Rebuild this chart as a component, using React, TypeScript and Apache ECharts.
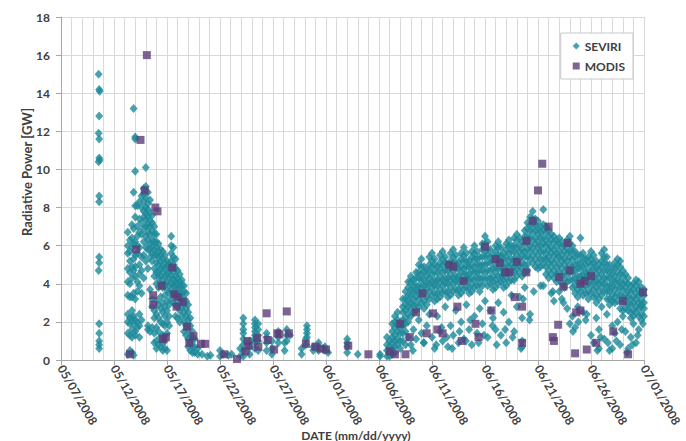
import React, { useEffect, useRef } from "react";
import * as echarts from "echarts";

// x values are days since 05/07/2008
const dateLabels = [
  "05/07/2008", "05/12/2008", "05/17/2008", "05/22/2008", "05/27/2008", "06/01/2008",
  "06/06/2008", "06/11/2008", "06/16/2008", "06/21/2008", "06/26/2008", "07/01/2008",
];

const seviriFirstBurst: number[][] = [
  [3.55, 15.0], [3.6, 14.2], [3.65, 14.1], [3.6, 12.8], [3.55, 11.9], [3.6, 11.6],
  [3.6, 10.6], [3.65, 10.5], [3.55, 10.4], [3.6, 8.6], [3.6, 8.3], [3.6, 5.4],
  [3.6, 5.1], [3.55, 4.7], [3.6, 1.9], [3.6, 1.4], [3.6, 1.0], [3.6, 0.8], [3.6, 0.6],
];

const seviriMayColumns: [number, number[]][] = [
  [6.3, [6.7, 6.0, 5.6, 4.8, 4.1, 3.4, 2.4, 2.0, 1.4, 0.3]],
  [6.5, [6.3, 5.7, 5.2, 4.6, 4.0, 3.3, 2.2, 1.9, 1.3, 0.5]],
  [6.7, [7.1, 6.4, 5.9, 4.9, 4.3, 3.3, 2.6, 2.2, 1.6, 1.2, 0.4]],
  [6.85, [13.2, 8.8, 6.9, 6.1, 5.3, 4.7, 3.5, 2.3, 1.9, 0.25]],
  [7.0, [11.7, 11.6, 9.9, 8.1, 7.5, 6.2, 5.5, 4.9, 4.4, 3.2, 2.1, 1.5, 1.3]],
  [7.2, [8.1, 7.0, 6.5, 6.0, 5.6, 4.1, 3.6, 2.0, 1.7]],
  [7.4, [8.3, 7.4, 6.7, 5.9, 5.0, 4.5, 3.9, 2.4, 1.8, 1.2]],
  [7.6, [8.6, 8.0, 7.2, 6.6, 5.4, 4.7, 3.5, 2.1]],
  [7.8, [9.0, 8.7, 8.3, 7.8, 7.5, 6.9, 6.2, 5.5, 4.3]],
  [8.0, [10.1, 9.1, 8.5, 8.0, 7.7, 7.4, 7.0, 6.5, 5.9, 5.2]],
  [8.2, [8.8, 8.2, 7.9, 7.5, 7.1, 6.7, 6.3, 5.8, 4.8, 1.8, 1.6]],
  [8.4, [8.4, 7.7, 7.3, 7.0, 6.6, 6.1, 5.8, 5.4, 3.7, 1.5]],
  [8.6, [7.6, 7.2, 6.8, 6.3, 6.0, 5.6, 5.2, 3.2, 2.8, 1.7]],
  [8.8, [7.0, 6.6, 6.2, 5.8, 5.5, 4.8, 4.4, 2.6, 2.2, 1.4, 0.9]],
  [9.0, [6.6, 6.2, 5.9, 5.5, 5.1, 4.6, 4.0, 3.1, 2.4, 1.7, 1.0, 0.6]],
  [9.2, [6.1, 5.7, 5.4, 5.0, 4.6, 4.3, 3.8, 2.9, 2.2, 1.5, 0.8]],
  [9.4, [5.8, 5.5, 5.2, 4.8, 4.4, 4.0, 3.3, 2.7, 2.0, 1.2, 0.7]],
  [9.6, [5.7, 5.3, 4.9, 4.6, 4.2, 3.8, 3.0, 2.5, 1.9, 1.3, 0.9, 0.5]],
  [9.8, [5.5, 5.1, 4.8, 4.4, 4.0, 3.4, 2.8, 2.3, 1.8, 1.0, 0.6]],
  [10.0, [5.2, 4.9, 4.5, 4.1, 3.7, 3.1, 2.6, 2.0, 1.4, 0.5]],
  [10.2, [5.0, 4.6, 4.3, 3.9, 3.5, 2.9, 2.3, 1.8]],
  [10.4, [6.5, 6.0, 5.6, 5.2, 4.8, 4.4, 4.0, 3.6, 3.2]],
  [10.6, [5.9, 5.4, 5.0, 4.6, 4.2, 3.9, 3.5, 3.0]],
  [10.8, [5.3, 4.8, 4.4, 4.1, 3.8, 3.4, 2.9, 2.3]],
  [11.0, [4.7, 4.3, 4.0, 3.7, 3.3, 2.8, 2.2]],
  [11.2, [4.5, 4.1, 3.8, 3.4, 3.0, 2.6, 2.0]],
  [11.4, [4.2, 3.9, 3.5, 3.2, 2.8, 2.3]],
  [11.6, [3.9, 3.6, 3.2, 2.9, 2.5, 2.0, 1.5]],
  [11.8, [3.5, 3.1, 2.7, 2.3, 1.8, 1.3]],
  [12.0, [2.9, 2.5, 2.1, 1.6, 1.1, 0.7]],
  [12.2, [2.2, 1.8, 1.3, 0.9, 0.5]],
  [12.4, [1.5, 1.1, 0.7, 0.4]],
  [12.6, [1.1, 0.7, 0.4]],
  [12.9, [0.6, 0.3]],
  [13.3, [0.3]],
  [13.8, [0.2]],
  [14.1, [0.25]],
  [15.0, [0.5, 0.2]],
  [15.3, [0.3]],
  [15.8, [0.25]],
  [16.1, [0.3]],
  [16.9, [0.6, 0.2]],
];

const seviriLateMay: [number, number[]][] = [
  [17.2, [2.2, 1.9, 1.6, 1.4, 1.1, 0.8, 0.5, 0.2]],
  [17.8, [1.0, 0.7, 0.3]],
  [18.3, [2.1, 1.9, 1.7, 1.5, 1.3, 1.1, 0.9, 0.6]],
  [18.6, [1.9, 1.6, 1.3, 1.0, 0.5]],
  [19.4, [1.4, 1.2, 0.9, 0.5]],
  [19.9, [1.0, 0.6, 0.3]],
  [20.5, [1.5, 1.2, 0.9]],
  [21.1, [0.9, 0.5]],
  [21.3, [1.6, 1.3, 1.0]],
  [21.6, [1.3]],
  [22.7, [0.6, 0.3]],
  [23.1, [1.1, 0.8]],
  [23.2, [1.8, 1.6, 1.4, 1.2]],
  [23.8, [0.7, 0.5]],
  [24.3, [0.9, 0.7, 0.5]],
  [24.9, [0.7, 0.5]],
  [25.2, [0.4]],
  [27.0, [1.1, 0.9, 0.7, 0.4]],
  [28.0, [0.3]],
  [30.1, [0.3, 0.2]],
];

const seviriJuneColumns: [number, number[]][] = [
  [30.75, [1.2, 0.8, 0.5, 0.2]],
  [31.0, [1.0, 0.7, 0.4, 0.2]],
  [31.25, [1.9, 1.5, 1.2, 0.9, 0.6, 0.3]],
  [31.5, [2.3, 2.0, 1.7, 1.3, 1.0, 0.7, 0.4]],
  [31.75, [2.5, 2.1, 1.8, 1.5, 1.1, 0.8]],
  [32.0, [2.0, 1.7, 1.4, 1.0, 0.6]],
  [32.25, [3.2, 2.8, 2.5, 2.1, 1.8, 1.4, 1.0]],
  [32.5, [3.6, 3.2, 2.9, 2.6, 2.2, 1.9, 1.5, 0.8]],
  [32.75, [4.1, 3.8, 3.4, 3.1, 2.8, 2.4, 2.0, 1.2]],
  [33.0, [4.4, 4.1, 3.7, 3.4, 3.0, 2.7, 2.3, 0.8]],
  [33.25, [4.2, 3.9, 3.6, 3.2, 2.9, 2.5, 1.6]],
  [33.5, [4.6, 4.3, 3.9, 3.6, 3.3, 2.9, 2.6, 1.1]],
  [33.75, [5.0, 4.6, 4.3, 3.9, 3.6, 3.2, 2.8, 2.1]],
  [34.0, [5.3, 4.9, 4.5, 4.2, 3.8, 3.4, 3.0, 1.4]],
  [34.25, [4.9, 4.6, 4.2, 3.9, 3.5, 3.1, 2.7, 0.9]],
  [34.5, [4.7, 4.4, 4.0, 3.7, 3.3, 2.9, 1.8]],
  [34.75, [5.4, 5.0, 4.7, 4.3, 4.0, 3.6, 3.2, 2.4]],
  [35.0, [5.6, 5.2, 4.9, 4.5, 4.1, 3.8, 3.4, 1.2]],
  [35.25, [5.3, 5.0, 4.6, 4.2, 3.9, 3.5, 3.1, 0.6]],
  [35.5, [4.9, 4.6, 4.2, 3.9, 3.5, 3.2, 2.3]],
  [35.75, [5.5, 5.1, 4.8, 4.4, 4.1, 3.7, 3.3, 1.5]],
  [36.0, [5.7, 5.3, 5.0, 4.6, 4.2, 3.9, 3.5, 1.0]],
  [36.25, [5.4, 5.1, 4.7, 4.3, 4.0, 3.6, 2.8]],
  [36.5, [5.0, 4.7, 4.3, 4.0, 3.6, 3.3, 0.7]],
  [36.75, [5.6, 5.2, 4.9, 4.5, 4.2, 3.8, 3.4, 1.8]],
  [37.0, [5.8, 5.4, 5.1, 4.7, 4.3, 4.0, 3.6, 1.3]],
  [37.25, [5.5, 5.1, 4.8, 4.4, 4.1, 3.7, 2.6]],
  [37.5, [5.1, 4.8, 4.4, 4.1, 3.7, 3.4, 0.9]],
  [37.75, [5.6, 5.3, 4.9, 4.6, 4.2, 3.9, 3.5, 2.0]],
  [38.0, [5.9, 5.5, 5.2, 4.8, 4.5, 4.1, 3.7, 1.1]],
  [38.25, [5.6, 5.2, 4.9, 4.5, 4.2, 3.8, 2.9]],
  [38.5, [5.2, 4.9, 4.5, 4.2, 3.8, 3.5, 1.6]],
  [38.75, [5.7, 5.4, 5.0, 4.7, 4.3, 4.0, 3.6, 0.8]],
  [39.0, [6.0, 5.6, 5.3, 4.9, 4.6, 4.2, 3.8, 2.3]],
  [39.25, [5.7, 5.3, 5.0, 4.6, 4.3, 3.9, 1.4]],
  [39.5, [5.4, 5.0, 4.7, 4.3, 4.0, 3.6, 2.7]],
  [39.75, [6.1, 5.8, 5.4, 5.0, 4.7, 4.3, 3.9, 1.9]],
  [40.0, [6.5, 6.1, 5.7, 5.4, 5.0, 4.6, 4.2, 3.1]],
  [40.25, [6.2, 5.8, 5.5, 5.1, 4.7, 4.3, 3.9, 1.2]],
  [40.5, [5.8, 5.4, 5.1, 4.7, 4.3, 4.0, 2.6]],
  [40.75, [5.5, 5.2, 4.8, 4.4, 4.1, 3.7, 2.2]],
  [41.0, [6.0, 5.7, 5.3, 4.9, 4.6, 4.2, 3.8, 1.6]],
  [41.25, [6.2, 5.9, 5.5, 5.1, 4.8, 4.4, 4.0, 3.0]],
  [41.5, [5.9, 5.5, 5.2, 4.8, 4.4, 4.1, 1.3]],
  [41.75, [5.6, 5.3, 4.9, 4.5, 4.2, 3.8, 2.5]],
  [42.0, [6.1, 5.8, 5.4, 5.0, 4.7, 4.3, 3.9, 0.9]],
  [42.25, [6.3, 6.0, 5.6, 5.2, 4.9, 4.5, 4.1, 2.0]],
  [42.5, [6.0, 5.7, 5.3, 5.0, 4.6, 4.2, 3.4]],
  [42.75, [6.4, 6.0, 5.7, 5.3, 4.9, 4.6, 4.2, 1.5]],
  [43.0, [6.6, 6.3, 5.9, 5.5, 5.2, 4.8, 4.4, 2.8]],
  [43.25, [6.4, 6.0, 5.7, 5.3, 5.0, 4.6, 3.3]],
  [43.5, [6.2, 5.8, 5.5, 5.1, 4.8, 4.4, 2.2, 1.0, 0.7]],
  [43.75, [6.8, 6.5, 6.1, 5.7, 5.4, 5.0, 4.6, 3.8]],
  [44.0, [7.2, 6.9, 6.5, 6.2, 5.8, 5.4, 5.0, 4.7]],
  [44.25, [7.5, 7.1, 6.8, 6.4, 6.0, 5.7, 5.3, 2.4]],
  [44.5, [7.8, 7.4, 7.1, 6.7, 6.3, 5.9, 5.5, 5.1]],
  [44.75, [7.4, 7.1, 6.8, 6.4, 6.1, 5.7, 5.3, 4.9]],
  [45.0, [7.3, 6.9, 6.6, 6.2, 5.9, 5.5, 5.1, 4.8]],
  [45.25, [7.0, 6.7, 6.4, 6.0, 5.7, 5.3, 4.9, 3.9]],
  [45.5, [7.9, 7.1, 6.8, 6.4, 6.1, 5.7, 5.3, 5.0]],
  [45.75, [7.0, 6.7, 6.3, 6.0, 5.6, 5.3, 4.9, 4.5]],
  [46.0, [6.8, 6.5, 6.1, 5.8, 5.4, 5.1, 4.7, 4.3]],
  [46.25, [6.6, 6.3, 5.9, 5.6, 5.2, 4.9, 4.5, 3.5]],
  [46.5, [6.5, 6.2, 5.8, 5.5, 5.1, 4.7, 4.3, 3.1]],
  [46.75, [6.3, 6.0, 5.6, 5.3, 4.9, 4.5, 4.1]],
  [47.0, [6.4, 6.1, 5.7, 5.4, 5.0, 4.6, 4.2, 3.6]],
  [47.25, [6.2, 5.9, 5.5, 5.2, 4.8, 4.4, 4.0, 3.2]],
  [47.5, [6.0, 5.7, 5.3, 5.0, 4.6, 4.2, 3.8]],
  [47.75, [6.3, 5.9, 5.6, 5.2, 4.8, 4.5, 4.1, 2.7]],
  [48.0, [6.5, 6.1, 5.7, 5.4, 5.0, 4.6, 4.2, 1.9]],
  [48.25, [6.0, 5.7, 5.3, 4.9, 4.6, 4.2, 3.8, 2.3]],
  [48.5, [5.7, 5.4, 5.0, 4.7, 4.3, 3.9, 3.5, 1.7]],
  [48.75, [5.5, 5.1, 4.8, 4.4, 4.1, 3.7, 3.3, 2.8]],
  [49.0, [6.4, 5.5, 5.1, 4.8, 4.4, 4.0, 3.6]],
  [49.25, [5.6, 5.3, 4.9, 4.5, 4.2, 3.8, 3.4, 2.5]],
  [49.5, [5.3, 5.0, 4.6, 4.3, 3.9, 3.5, 2.1]],
  [49.75, [5.4, 5.1, 4.7, 4.4, 4.0, 3.6, 3.2]],
  [50.0, [5.7, 5.3, 5.0, 4.6, 4.2, 3.9, 3.5, 1.3]],
  [50.25, [5.5, 5.1, 4.8, 4.4, 4.1, 3.7, 3.3, 0.9]],
  [50.5, [5.2, 4.8, 4.5, 4.1, 3.8, 3.4, 3.0, 2.2]],
  [50.75, [5.0, 4.7, 4.3, 4.0, 3.6, 3.2, 1.6, 0.6]],
  [51.0, [5.6, 5.2, 4.9, 4.5, 4.1, 3.8, 3.4, 2.8]],
  [51.25, [5.8, 5.4, 5.1, 4.7, 4.3, 4.0, 3.6, 1.1]],
  [51.5, [5.4, 5.0, 4.7, 4.3, 3.9, 3.6, 3.2, 2.4]],
  [51.75, [5.0, 4.6, 4.3, 3.9, 3.6, 3.2, 2.9, 0.5]],
  [52.0, [4.8, 4.5, 4.1, 3.8, 3.4, 3.1, 1.8]],
  [52.25, [5.1, 4.8, 4.4, 4.1, 3.7, 3.3, 3.0, 1.4]],
  [52.5, [5.3, 5.0, 4.6, 4.2, 3.9, 3.5, 3.1, 2.0]],
  [52.75, [5.2, 4.9, 4.5, 4.1, 3.8, 3.4, 2.7, 0.8]],
  [53.0, [4.7, 4.4, 4.0, 3.7, 3.3, 3.0, 2.6, 2.3]],
  [53.25, [4.5, 4.1, 3.8, 3.4, 3.1, 2.7, 1.5]],
  [53.5, [4.3, 4.0, 3.6, 3.3, 2.9, 2.6, 0.6]],
  [53.75, [3.9, 3.6, 3.2, 2.9, 2.5, 2.2, 1.2]],
  [54.0, [4.0, 3.7, 3.3, 3.0, 2.6, 2.3, 1.9]],
  [54.25, [4.2, 3.9, 3.5, 3.2, 2.8, 2.5, 0.9]],
  [54.5, [4.1, 3.7, 3.4, 3.0, 2.7, 2.3, 1.6]],
  [54.75, [3.8, 3.5, 3.1, 2.8, 2.4, 2.1, 2.9]],
  [55.0, [3.7, 3.4, 3.0, 2.7, 2.3]],
];

const seviriJuneLow: number[][] = [
  [33.2, 0.5], [34.2, 0.9], [35.4, 0.8], [35.9, 1.7], [36.4, 1.2], [36.9, 0.6],
  [37.6, 1.5], [38.2, 1.0], [38.6, 2.1], [39.4, 0.9], [39.9, 1.3], [40.7, 1.8],
  [41.1, 0.8], [41.9, 1.6], [42.6, 1.2], [43.4, 0.6], [43.6, 3.2], [44.2, 2.1],
  [44.6, 3.6], [45.5, 3.9], [46.4, 3.6], [47.4, 3.0], [48.3, 1.5], [48.8, 2.0],
  [49.6, 2.4], [50.6, 0.5], [50.9, 1.2], [51.6, 0.9], [52.0, 0.6], [52.4, 1.0],
  [52.9, 1.6], [53.4, 0.4], [53.9, 0.8], [54.4, 1.3], [54.9, 1.9],
];

const modisPoints: number[][] = [
  [6.5, 0.3], [7.1, 5.8], [7.5, 11.55], [7.9, 8.9], [8.1, 16.0], [8.7, 3.4], [8.7, 2.9],
  [8.9, 8.0], [9.1, 7.8], [9.5, 3.9], [9.6, 1.1], [9.9, 1.2], [10.5, 4.85], [10.7, 3.45],
  [10.9, 2.8], [11.0, 3.3], [11.5, 3.05], [11.9, 1.75], [12.1, 0.9], [12.5, 1.25],
  [13.2, 0.85], [13.6, 0.85], [15.4, 0.3], [16.6, 0.05], [17.4, 0.45], [17.6, 1.0],
  [17.7, 0.75], [18.5, 1.15], [18.6, 0.7], [19.4, 2.45], [19.5, 1.05], [20.1, 0.55],
  [20.4, 1.4], [20.6, 1.35], [21.3, 2.55], [21.5, 1.4], [23.1, 0.85], [24.0, 0.7],
  [24.5, 0.6], [25.0, 0.55], [27.1, 0.75], [29.0, 0.3], [31.0, 0.45], [31.5, 0.3],
  [32.0, 1.9], [32.5, 0.3], [32.9, 1.2], [33.5, 2.5], [34.1, 3.5], [34.5, 1.4],
  [35.1, 2.45], [35.5, 1.6], [36.0, 1.4], [36.6, 5.0], [37.0, 4.9], [37.4, 2.8],
  [37.8, 1.0], [38.0, 4.15], [39.1, 1.9], [39.4, 1.2], [40.0, 5.95], [40.6, 2.6],
  [41.0, 5.3], [41.4, 5.1], [41.9, 4.6], [42.3, 4.6], [42.8, 3.3], [43.0, 5.15],
  [43.5, 2.8], [43.5, 0.9], [43.9, 4.6], [43.9, 6.25], [44.5, 7.3], [45.0, 8.9],
  [45.4, 10.3], [46.0, 7.0], [46.4, 1.2], [46.5, 1.0], [46.9, 1.85], [47.0, 4.35],
  [47.4, 3.85], [47.8, 6.15], [48.0, 4.7], [48.5, 0.35], [48.6, 2.5], [49.0, 2.6],
  [49.0, 4.0], [49.4, 4.15], [49.6, 0.55], [50.0, 4.4], [50.5, 0.9], [52.1, 1.5],
  [53.0, 3.1], [53.5, 0.3], [54.9, 3.55],
];

const FONT = "Lato, 'Open Sans', sans-serif";
const TEXT = "#404040";

function expandColumns(cols: [number, number[]][]): number[][] {
  const out: number[][] = [];
  cols.forEach(([d, vs]) => vs.forEach((v) => out.push([d, v])));
  return out;
}

export default function App() {
  const ref = useRef<HTMLDivElement>(null);

  useEffect(() => {
    if (!ref.current) return;
    const chart = echarts.init(ref.current, null, { renderer: "svg" });
    const seviriData = [
      ...seviriFirstBurst,
      ...expandColumns(seviriMayColumns),
      ...expandColumns(seviriLateMay),
      ...expandColumns(seviriJuneColumns),
      ...seviriJuneLow,
    ];
    chart.setOption({
      animation: false,
      backgroundColor: "#ffffff",
      grid: { left: 61, right: 42, top: 17, bottom: 81 },
      legend: {
        orient: "vertical",
        right: 53,
        top: 33,
        backgroundColor: "#ffffff",
        borderColor: "#c8c8c8",
        borderWidth: 1,
        padding: [7, 8, 7, 12],
        itemGap: 8,
        itemWidth: 7,
        itemHeight: 7,
        textStyle: { fontFamily: FONT, fontSize: 12, fontWeight: "bold", color: TEXT },
        data: [
          { name: "SEVIRI", icon: "diamond" },
          { name: "MODIS", icon: "rect" },
        ],
      },
      xAxis: {
        type: "value",
        min: 0,
        max: 55,
        interval: 5,
        axisLine: { show: true, onZero: false, lineStyle: { color: "#a6a6a6" } },
        axisTick: { show: true, length: 5, lineStyle: { color: "#a6a6a6" } },
        minorTick: { show: false, splitNumber: 5 },
        splitLine: { show: true, lineStyle: { color: "#d9d9d9" } },
        minorSplitLine: { show: true, lineStyle: { color: "#d9d9d9" } },
        axisLabel: {
          rotate: -60,
          margin: 6,
          fontFamily: FONT,
          fontSize: 12,
          fontWeight: "bold",
          color: TEXT,
          formatter: (v: number) => dateLabels[Math.round(v / 5)] ?? "",
        },
      },
      yAxis: {
        type: "value",
        min: 0,
        max: 18,
        interval: 2,
        axisLine: { show: true, lineStyle: { color: "#a6a6a6" } },
        axisTick: { show: true, length: 5, lineStyle: { color: "#a6a6a6" } },
        splitLine: { show: true, lineStyle: { color: "#d9d9d9" } },
        axisLabel: {
          margin: 11,
          fontFamily: FONT,
          fontSize: 12,
          fontWeight: "bold",
          color: TEXT,
        },
      },
      graphic: [
        {
          type: "text",
          x: 27,
          y: 172,
          rotation: Math.PI / 2,
          style: {
            text: "Radiative Power [GW]",
            fontFamily: FONT,
            fontSize: 13,
            fontWeight: "bold",
            fill: TEXT,
            textAlign: "center",
            textVerticalAlign: "middle",
          },
        },
        {
          type: "text",
          x: 356,
          y: 435,
          style: {
            text: "DATE (mm/dd/yyyy)",
            fontFamily: FONT,
            fontSize: 12,
            fontWeight: "bold",
            fill: TEXT,
            textAlign: "center",
            textVerticalAlign: "middle",
          },
        },
      ],
      series: [
        {
          name: "SEVIRI",
          type: "scatter",
          symbol: "diamond",
          symbolSize: [8, 9],
          itemStyle: { color: "#1d899a" },
          data: seviriData,
        },
        {
          name: "MODIS",
          type: "scatter",
          symbol: "rect",
          symbolSize: 8,
          itemStyle: { color: "#5b3d78" },
          data: modisPoints,
        },
      ],
    });
    return () => chart.dispose();
  }, []);

  return (
    <div
      ref={ref}
      style={{ position: "fixed", left: 0, top: 0, width: 686, height: 441 }}
    />
  );
}
